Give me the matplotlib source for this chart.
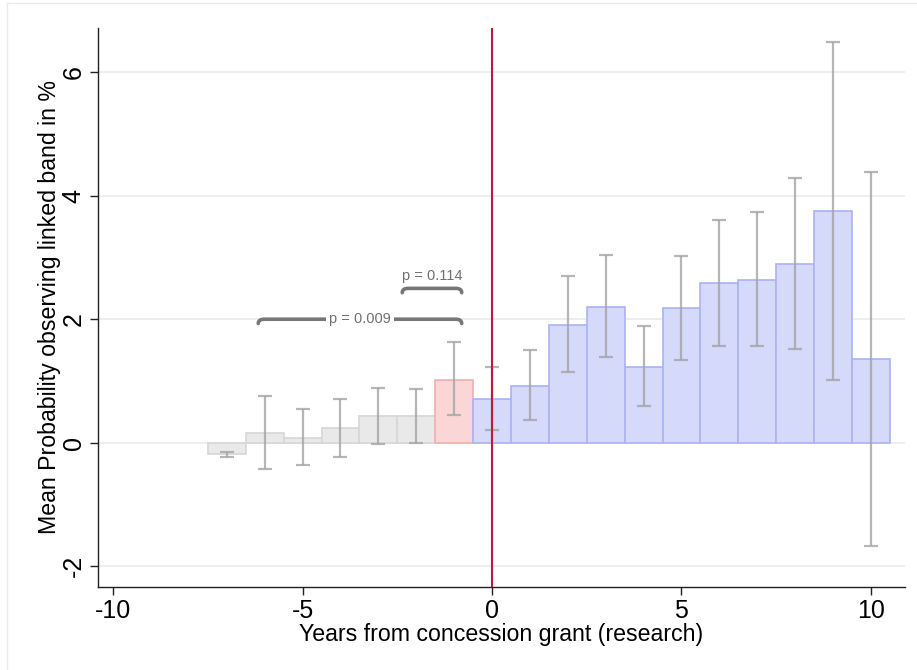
import matplotlib
matplotlib.use("Agg")
import matplotlib.pyplot as plt
from matplotlib.path import Path
from matplotlib.patches import PathPatch
from matplotlib.lines import Line2D

plt.rcParams['font.family'] = ['Liberation Sans', 'DejaVu Sans']

# Event-time bins and estimated means with 95% confidence bounds
years = [-7, -6, -5, -4, -3, -2, -1, 0, 1, 2, 3, 4, 5, 6, 7, 8, 9, 10]
means = [-0.19, 0.16, 0.07, 0.23, 0.43, 0.43, 1.02, 0.70, 0.92, 1.91, 2.20,
         1.23, 2.18, 2.58, 2.64, 2.90, 3.75, 1.35]
ci_low = [-0.23, -0.42, -0.37, -0.23, -0.03, 0.00, 0.44, 0.20, 0.37, 1.15,
          1.39, 0.60, 1.34, 1.56, 1.56, 1.51, 1.02, -1.68]
ci_high = [-0.15, 0.76, 0.55, 0.71, 0.89, 0.87, 1.63, 1.22, 1.50, 2.70,
           3.04, 1.89, 3.03, 3.61, 3.74, 4.29, 6.50, 4.39]

x_ticks = [-10, -5, 0, 5, 10]
y_ticks = [-2, 0, 2, 4, 6]

# Pairwise comparison brackets: (start, end, height, label)
brackets = [(-6.17, -0.80, 2.00, "p = 0.009"),
            (-2.37, -0.80, 2.50, "p = 0.114")]

W, H = 917, 670
fig = plt.figure(figsize=(W / 100, H / 100), dpi=100)
ax = fig.add_axes([98 / W, 83 / H, (905 - 98) / W, (642 - 83) / H])

for yr, m in zip(years, means):
    if yr < -1:
        face, edge = "#E9E9E9", "#D6D6D6"
    elif yr == -1:
        face, edge = "#FAD6D6", "#F5AEAE"
    else:
        face, edge = "#D5D9FA", "#A9B3F6"
    ax.bar(yr, m, width=1.0, color=face, edgecolor=edge, linewidth=1.2,
           zorder=2)

err_lo = [m - lo for m, lo in zip(means, ci_low)]
err_hi = [hi - m for m, hi in zip(means, ci_high)]
ax.errorbar(years, means, yerr=[err_lo, err_hi], fmt="none",
            ecolor="#A4A4A4", elinewidth=1.6, capsize=5, capthick=1.6,
            alpha=0.8, zorder=3)

ax.axvline(0, color="#C01A35", linewidth=1.5, zorder=5)


def draw_brace(x0, x1, y, label):
    drop = 0.07
    r = 0.16
    verts = [(x0, y - drop), (x0, y), (x0 + r, y), (x1 - r, y),
             (x1, y), (x1, y - drop)]
    codes = [Path.MOVETO, Path.CURVE3, Path.CURVE3, Path.LINETO,
             Path.CURVE3, Path.CURVE3]
    ax.add_patch(PathPatch(Path(verts, codes), facecolor="none",
                           edgecolor="#777777", linewidth=2.6,
                           capstyle="round", zorder=4))


draw_brace(*brackets[0])
ax.text((brackets[0][0] + brackets[0][1]) / 2, brackets[0][2],
        brackets[0][3], ha="center", va="center", fontsize=10.5,
        color="#707070", zorder=6,
        bbox=dict(facecolor="white", edgecolor="none", pad=2.5))
draw_brace(*brackets[1])
ax.text((brackets[1][0] + brackets[1][1]) / 2, brackets[1][2] + 0.2,
        brackets[1][3], ha="center", va="center", fontsize=10.5,
        color="#707070", zorder=6)

ax.set_xlim(-10.4, 10.9)
ax.set_ylim(-2.34, 6.72)
ax.set_xticks(x_ticks)
ax.set_xticklabels([str(v) for v in x_ticks])
ax.set_yticks(y_ticks)
ax.set_yticklabels([str(v) for v in y_ticks], rotation=90, va="center")

ax.grid(axis="y", color="#EAEEEE", linewidth=1.3, zorder=0)
ax.set_axisbelow(True)
for side in ("top", "right"):
    ax.spines[side].set_visible(False)
for side in ("left", "bottom"):
    ax.spines[side].set_linewidth(1.0)
    ax.spines[side].set_color("#222222")
ax.tick_params(axis="both", direction="out", length=6, width=1.0,
               labelsize=18, color="#222222", pad=3)

ax.set_xlabel("Years from concession grant (research)", fontsize=16.7,
              labelpad=0)
ax.set_ylabel("Mean Probability observing linked band in %", fontsize=16.7,
              labelpad=0)

# light outer frame of the graph region
fig.add_artist(Line2D([7 / W, 1.0], [1 - 3 / H, 1 - 3 / H],
                      color="#EBEBEB", linewidth=1.0))
fig.add_artist(Line2D([7 / W, 7 / W], [0.0, 1 - 3 / H],
                      color="#EBEBEB", linewidth=1.0))

fig.savefig("out.png", dpi=100, facecolor="white")
